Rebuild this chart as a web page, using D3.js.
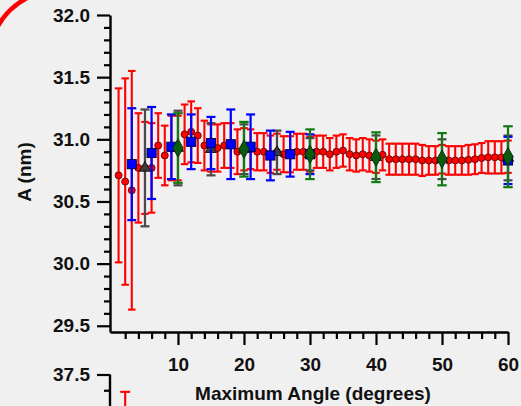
<!DOCTYPE html>
<html>
<head>
<meta charset="utf-8">
<script src="https://cdn.jsdelivr.net/npm/d3@7"></script>
<style>
  body { margin: 0; background: #f0f0f0; overflow: hidden; }
  text { font-family: Arial, "Liberation Sans", sans-serif; font-weight: bold; fill: #111; }
</style>
</head>
<body>
<div id="chart"></div>
<script>
// red circles: every angle 1..60
var redX = [1,2,3,4,5,6,7,8,9,10,11,12,13,14,15,16,17,18,19,20,
  21,22,23,24,25,26,27,28,29,30,31,32,33,34,35,36,37,38,39,40,
  41,42,43,44,45,46,47,48,49,50,51,52,53,54,55,56,57,58,59,60];
var redVal = [30.71,30.66,30.59,30.77,30.77,30.77,30.95,30.87,30.93,30.93,
  31.04,31.06,31.03,30.95,30.93,30.93,30.95,30.95,30.90,30.92,
  30.92,30.90,30.90,30.88,30.90,30.88,30.88,30.90,30.90,30.88,
  30.90,30.90,30.88,30.90,30.91,30.88,30.87,30.88,30.87,30.86,
  30.875,30.84,30.84,30.84,30.84,30.84,30.83,30.83,30.83,30.84,
  30.83,30.83,30.83,30.835,30.84,30.85,30.855,30.855,30.855,30.86];
var redErr = [0.70,0.83,0.96,0.44,0.37,0.36,0.26,0.24,0.26,0.26,
  0.24,0.245,0.22,0.20,0.19,0.19,0.18,0.18,0.18,0.17,
  0.16,0.15,0.15,0.15,0.145,0.145,0.145,0.145,0.145,0.14,
  0.13,0.13,0.13,0.13,0.13,0.13,0.13,0.13,0.13,0.13,
  0.125,0.125,0.125,0.125,0.125,0.125,0.125,0.115,0.115,0.115,
  0.115,0.115,0.115,0.12,0.12,0.12,0.13,0.13,0.13,0.13];

// blue squares
var blueX = [3,6,9,12,15,18,21,24,27,30,60];
var blueVal = [30.80,30.89,30.94,30.98,30.97,30.96,30.94,30.87,30.88,30.88,30.83];
var blueErr = [0.45,0.37,0.26,0.22,0.21,0.28,0.26,0.20,0.18,0.16,0.19];

// grey triangles
var greyX = [5,10,15,20,25,30,40,50,60];
var greyVal = [30.77,30.93,30.92,30.92,30.895,30.88,30.856,30.84,30.85];
var greyErr = [0.47,0.30,0.21,0.20,0.175,0.13,0.175,0.16,0.18];

// green diamonds
var greenX = [10,20,30,40,50,60];
var greenVal = [30.93,30.92,30.88,30.856,30.84,30.86];
var greenErr = [0.28,0.22,0.20,0.20,0.21,0.245];

var yMajor = [29.5,30.0,30.5,31.0,31.5,32.0];
var xMajor = [10,20,30,40,50,60];

// bit of the next panel peeking in at the bottom
var lowX = [2];
var lowTop = [37.39];

var width = 521, height = 406;

var svg = d3.select("#chart")
  .append("svg")
  .attr("width", width)
  .attr("height", height)
  .style("background", "#f0f0f0");

var x = d3.scaleLinear().domain([-0.3, 60]).range([110, 508]);
var y = d3.scaleLinear().domain([29.45, 32]).range([332, 15]);

var yMinor = d3.range(29.5, 32.001, 0.1).filter(function (v) {
  return Math.abs(v * 2 - Math.round(v * 2)) > 0.01;
});
var xMinor = d3.range(2, 60, 2).filter(function (v) { return v % 10 != 0; });

// y axis
var yAx = svg.append("g")
  .attr("transform", "translate(110,0)")
  .call(d3.axisLeft(y).tickValues(yMajor).tickSize(13).tickSizeOuter(0)
    .tickPadding(7).tickFormat(d3.format(".1f")));
yAx.selectAll("text").style("font-size", "19px").attr("fill", "#111");

svg.append("g")
  .attr("transform", "translate(110,0)")
  .call(d3.axisLeft(y).tickValues(yMinor).tickSize(6).tickFormat(""))
  .select(".domain").remove();

// x axis
var xAx = svg.append("g")
  .attr("transform", "translate(0,332)")
  .call(d3.axisBottom(x).tickValues(xMajor).tickSize(13).tickSizeOuter(0)
    .tickPadding(13));
xAx.selectAll("text").style("font-size", "19px").attr("fill", "#111");

svg.append("g")
  .attr("transform", "translate(0,332)")
  .call(d3.axisBottom(x).tickValues(xMinor).tickSize(7).tickFormat(""))
  .select(".domain").remove();

svg.selectAll(".domain").attr("stroke", "#000").attr("stroke-width", 2.4);
svg.selectAll(".tick line").attr("stroke", "#000").attr("stroke-width", 2.2);

// axis titles
svg.append("text")
  .attr("x", 313)
  .attr("y", 400)
  .style("text-anchor", "middle")
  .style("font-size", "19px")
  .text("Maximum Angle (degrees)");

svg.append("text")
  .attr("transform", "translate(31,172) rotate(-90)")
  .style("text-anchor", "middle")
  .style("font-size", "19px")
  .text("A (nm)");

function zip(xs, vs, es) {
  return xs.map(function (d, i) { return { x: d, v: vs[i], e: es[i] }; });
}

function errorBars(data, color, capW, sw) {
  var g = svg.append("g").attr("stroke", color).attr("stroke-width", sw).attr("fill", "none");
  data.forEach(function (d) {
    var cx = x(d.x);
    g.append("line").attr("x1", cx).attr("x2", cx)
      .attr("y1", y(d.v + d.e)).attr("y2", y(d.v - d.e));
    g.append("line").attr("x1", cx - capW / 2).attr("x2", cx + capW / 2)
      .attr("y1", y(d.v + d.e)).attr("y2", y(d.v + d.e));
    g.append("line").attr("x1", cx - capW / 2).attr("x2", cx + capW / 2)
      .attr("y1", y(d.v - d.e)).attr("y2", y(d.v - d.e));
  });
}

var red = zip(redX, redVal, redErr);
var blue = zip(blueX, blueVal, blueErr);
var grey = zip(greyX, greyVal, greyErr);
var green = zip(greenX, greenVal, greenErr);

// red series
errorBars(red, "#ff0000", 7.5, 2.1);
svg.append("g").selectAll("circle")
  .data(red)
  .enter()
  .append("circle")
  .attr("cx", function (d) { return x(d.x); })
  .attr("cy", function (d) { return y(d.v); })
  .attr("r", 3.5)
  .attr("fill", "#ff0000")
  .attr("stroke", "#6a0000")
  .attr("stroke-width", 0.9);

// grey series
errorBars(grey, "#4a4a4a", 9, 2.2);
svg.append("g").selectAll("path")
  .data(grey)
  .enter()
  .append("path")
  .attr("transform", function (d) { return "translate(" + x(d.x) + "," + y(d.v) + ")"; })
  .attr("d", d3.symbol().type(d3.symbolTriangle).size(55))
  .attr("fill", "#3c3c3c")
  .attr("stroke", "#111")
  .attr("stroke-width", 0.9);

// blue series
errorBars(blue, "#0000ff", 9, 2.2);
svg.append("g").selectAll("rect")
  .data(blue)
  .enter()
  .append("rect")
  .attr("x", function (d) { return x(d.x) - 4.6; })
  .attr("y", function (d) { return y(d.v) - 4.6; })
  .attr("width", 9.2)
  .attr("height", 9.2)
  .attr("fill", "#0000ff")
  .attr("stroke", "#000040")
  .attr("stroke-width", 0.9);

// green series
errorBars(green, "#127a12", 9.5, 2.2);
svg.append("g").selectAll("path")
  .data(green)
  .enter()
  .append("path")
  .attr("transform", function (d) { return "translate(" + x(d.x) + "," + y(d.v) + ")"; })
  .attr("d", d3.symbol().type(d3.symbolDiamond).size(95))
  .attr("fill", "#0c5a0c")
  .attr("stroke", "#062e06")
  .attr("stroke-width", 0.9);

// lower panel fragment
var y2 = d3.scaleLinear().domain([37.5, 37.3]).range([374.5, 406]);
var y2Ax = svg.append("g")
  .attr("transform", "translate(110,0)")
  .call(d3.axisLeft(y2).tickValues([37.5]).tickSize(13).tickSizeOuter(0)
    .tickPadding(7).tickFormat(d3.format(".1f")));
y2Ax.selectAll("text").style("font-size", "19px").attr("fill", "#111");
y2Ax.select(".domain").attr("d", "M0,374.5V406").attr("stroke", "#000").attr("stroke-width", 2.4);
y2Ax.selectAll(".tick line").attr("stroke", "#000").attr("stroke-width", 2.2);
svg.append("g")
  .attr("transform", "translate(110,0)")
  .call(d3.axisLeft(y2).tickValues([37.4]).tickSize(6).tickFormat(""))
  .call(function (g) { g.select(".domain").remove(); })
  .selectAll("line").attr("stroke", "#000").attr("stroke-width", 2.2);

lowX.forEach(function (v, i) {
  var cx = x(v);
  svg.append("line").attr("x1", cx).attr("x2", cx)
    .attr("y1", y2(lowTop[i])).attr("y2", 406)
    .attr("stroke", "#ff0000").attr("stroke-width", 2.1);
  svg.append("line").attr("x1", cx - 5).attr("x2", cx + 5)
    .attr("y1", y2(lowTop[i])).attr("y2", y2(lowTop[i]))
    .attr("stroke", "#ff0000").attr("stroke-width", 2.1);
});

// red annotation ring in the top-left corner
svg.append("path")
  .attr("d", "M-2,26 Q8,8 27,-2")
  .attr("fill", "none")
  .attr("stroke", "#ff0000")
  .attr("stroke-width", 4.5);
</script>
</body>
</html>
